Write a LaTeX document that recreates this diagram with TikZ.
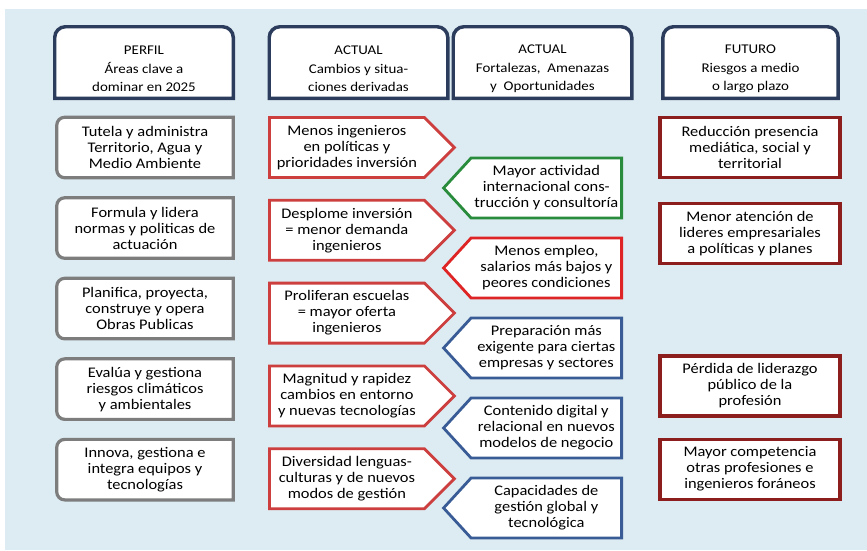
\documentclass[tikz,border=0pt]{standalone}
\usepackage{fontspec}
\setmainfont{Carlito}[FakeStretch=1.12]
\usetikzlibrary{positioning,shapes.symbols}
\pgfdeclarelayer{background}
\pgfsetlayers{background,main}
\definecolor{bgblue}{RGB}{221,235,242}
\definecolor{navy}{RGB}{44,60,92}
\definecolor{grisborde}{RGB}{125,125,125}
\definecolor{rojocambio}{RGB}{205,62,62}
\definecolor{rojoamenaza}{RGB}{222,36,36}
\definecolor{verdeop}{RGB}{40,140,60}
\definecolor{azulop}{RGB}{58,92,150}
\definecolor{granate}{RGB}{140,30,30}
\newcommand\cajafont{\fontsize{11}{12}\selectfont}
\newcommand\cabfont{\fontsize{10}{14}\selectfont}

\begin{document}
\begin{tikzpicture}[x=0.75pt,y=0.75pt,
  hdr/.style={minimum width=133.5pt,minimum height=63pt,inner sep=2pt,align=center,font=\cabfont},
  perfil/.style={minimum width=132pt,minimum height=45pt,inner sep=2pt,align=center,font=\cajafont},
  cambio/.style={signal,signal to=east,signal pointer angle=90,draw=rojocambio,line width=2.1pt,fill=white,minimum width=138.75pt,minimum height=45pt,inner xsep=2pt,align=center,font=\cajafont},
  oportun/.style={signal,signal to=west,signal pointer angle=95,line width=2.1pt,fill=white,minimum width=133.5pt,minimum height=45pt,inner xsep=1pt,align=center,font=\cajafont},
  riesgo/.style={draw=granate,line width=2.4pt,fill=white,minimum width=135pt,minimum height=45pt,align=center,font=\cajafont}
]
\useasboundingbox (0,0) rectangle (867,-550);

% cabeceras
\node[hdr] (hperfil) at (144,-69) {PERFIL\\Áreas clave a\\dominar en 2025};
\node[hdr] (hcambios) at (358.5,-69) {ACTUAL\\Cambios y situa-\\ciones derivadas};
\node[hdr] (hfoda) at (542.5,-69) {ACTUAL\\Fortalezas,\ \ Amenazas\\y\ \ Oportunidades};
\node[hdr,minimum width=131pt] (hfuturo) at (750.5,-69) {FUTURO\\Riesgos a medio\\o largo plazo};

% perfil
\node[perfil] (tutela) at (145,-147.5) {Tutela y administra\\Territorio, Agua y\\Medio Ambiente};
\node[perfil,below=15pt of tutela] (formula) {Formula y lidera\\normas y politicas de\\actuación};
\node[perfil,below=15pt of formula] (planifica) {Planifica, proyecta,\\construye y opera\\Obras Publicas};
\node[perfil,below=15pt of planifica] (evalua) {Evalúa y gestiona\\riesgos climáticos\\y ambientales};
\node[perfil,below=15pt of evalua] (innova) {Innova, gestiona e\\integra equipos y\\tecnologías};

% cambios
\node[cambio,anchor=west] (menosing) at (268,-147.5) {Menos ingenieros\\en políticas y\\prioridades inversión};
\node[cambio,below=15pt of menosing.south west,anchor=north west] (desplome) {Desplome inversión\\= menor demanda\\ingenieros};
\node[cambio,below=15pt of desplome.south west,anchor=north west] (proliferan) {Proliferan escuelas\\= mayor oferta\\ingenieros};
\node[cambio,below=15pt of proliferan.south west,anchor=north west] (magnitud) {Magnitud y rapidez\\cambios en entorno\\y nuevas tecnologías};
\node[cambio,below=15pt of magnitud.south west,anchor=north west] (diversidad) {Diversidad lenguas-\\culturas y de nuevos\\modos de gestión};

% fortalezas, amenazas y oportunidades
\node[oportun,draw=verdeop,anchor=east] (actividad) at (623,-188) {Mayor actividad\\internacional cons-\\trucción y consultoría};
\node[oportun,draw=rojoamenaza,below=15pt of actividad.south east,anchor=north east] (empleo) {Menos empleo,\\salarios más bajos y\\peores condiciones};
\node[oportun,draw=azulop,below=15pt of empleo.south east,anchor=north east] (preparacion) {Preparación más\\exigente para ciertas\\empresas y sectores};
\node[oportun,draw=azulop,below=15pt of preparacion.south east,anchor=north east] (contenido) {Contenido digital y\\relacional en nuevos\\modelos de negocio};
\node[oportun,draw=azulop,below=15pt of contenido.south east,anchor=north east] (capacidades) {Capacidades de\\gestión global y\\tecnológica};

% futuro
\node[riesgo] (reduccion) at (750,-147.5) {Reducción presencia\\mediática, social y\\territorial};
\node[riesgo,below=17pt of reduccion] (menoraten) {Menor atención de\\lideres empresariales\\a políticas y planes};
\node[riesgo] (perdida) at (750,-386) {Pérdida de liderazgo\\público de la\\profesión};
\node[riesgo,below=15pt of perdida] (competencia) {Mayor competencia\\otras profesiones e\\ingenieros foráneos};

% fondo y bordes redondeados
\begin{pgfonlayer}{background}
\fill[bgblue] (5,-9) rectangle (867,-550);
\foreach \n in {hperfil,hcambios,hfoda,hfuturo}
  \filldraw[draw=navy,fill=white,line width=2.6pt] ([yshift=9.75pt]\n.south west) -- ([yshift=-8pt]\n.north west) arc[start angle=180,end angle=90,radius=8pt] -- ([xshift=-8pt]\n.north east) arc[start angle=90,end angle=0,radius=8pt] -- ([yshift=9.75pt]\n.south east) -- cycle;
\foreach \n in {tutela,formula,planifica,evalua,innova}
  \filldraw[draw=grisborde,fill=white,line width=2.4pt] ([xshift=6pt]\n.north west) -- (\n.north east) -- (\n.south east) -- ([xshift=6pt]\n.south west) arc[start angle=270,end angle=180,radius=6pt] -- ([yshift=6pt]\n.south west) -- ([yshift=-6pt]\n.north west) arc[start angle=180,end angle=90,radius=6pt] -- cycle;
\end{pgfonlayer}
\end{tikzpicture}
\end{document}
